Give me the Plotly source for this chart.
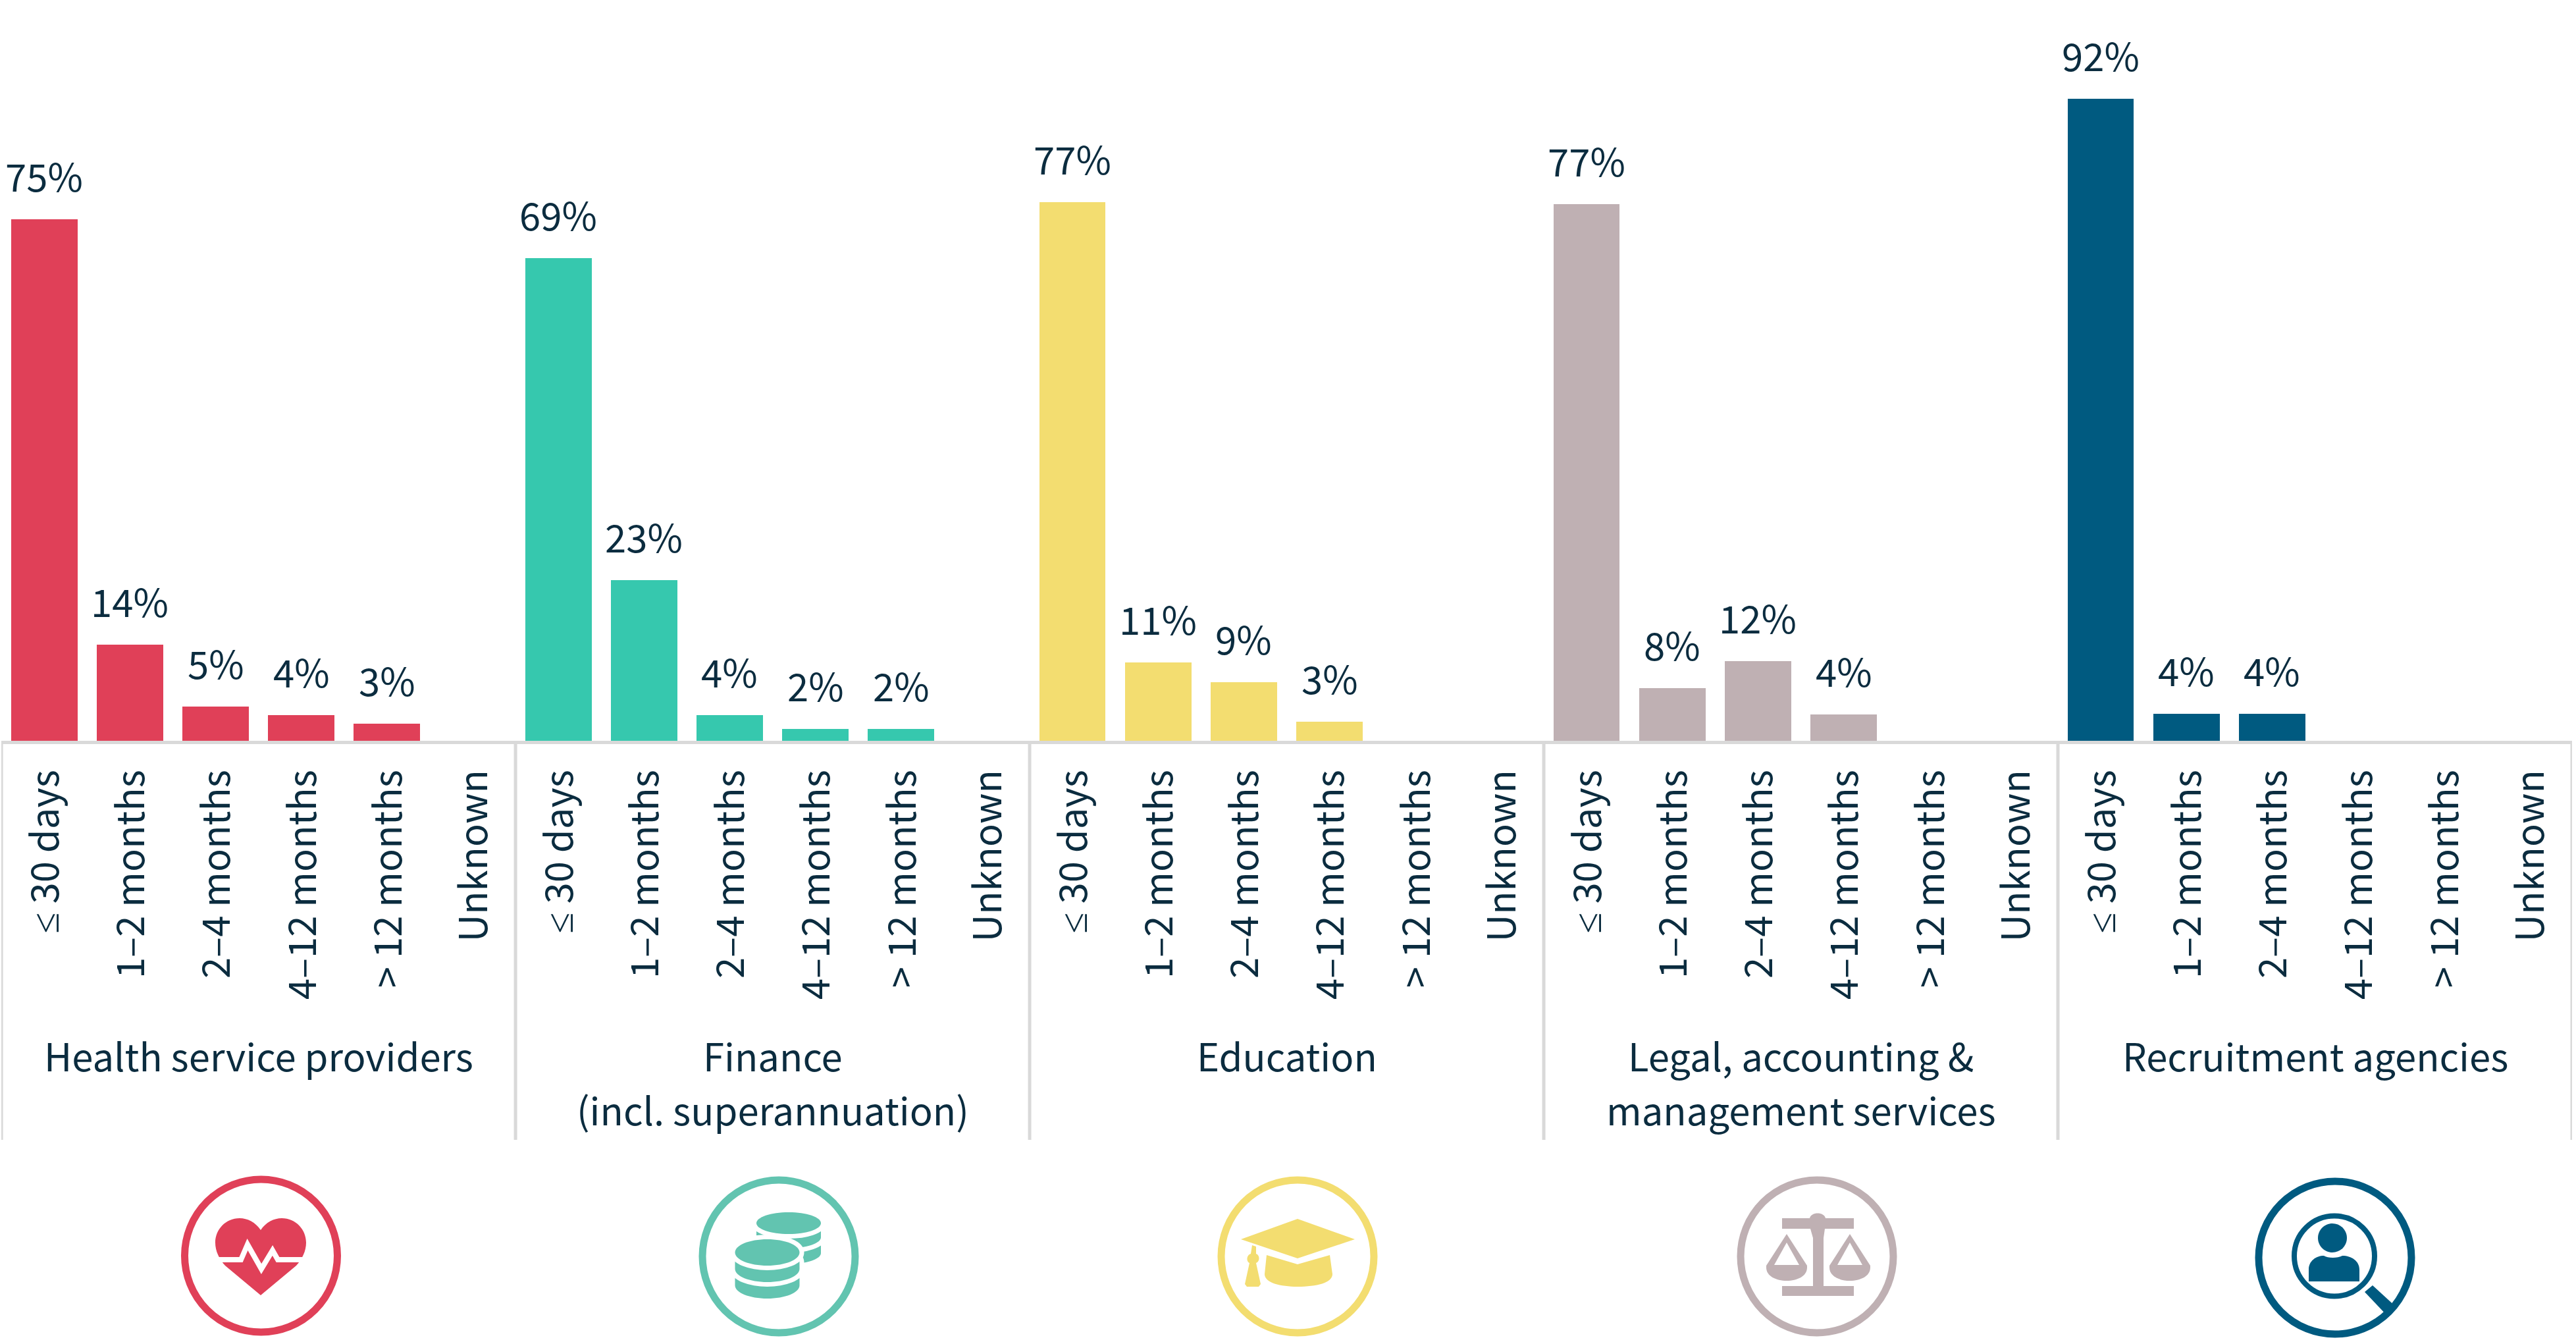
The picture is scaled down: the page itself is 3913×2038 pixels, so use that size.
import re
import plotly.graph_objects as go

W, H = 3913, 2038
FONT = "Noto Sans CJK JP"
INK = "#0B2C3F"
GRID = "#D9D9D9"

durations = ['<span style="font-family:Noto Sans">≤</span> 30 days', "1–2 months", "2–4 months",
             "4–12 months", "> 12 months", "Unknown"]
health_values = [74.7, 13.8, 4.9, 3.7, 2.45, None]
finance_values = [69.15, 23.0, 3.7, 1.73, 1.73, None]
education_values = [77.2, 11.26, 8.4, 2.74, None, None]
legal_values = [76.9, 7.55, 11.4, 3.77, None, None]
recruitment_values = [92.0, 3.87, 3.87, None, None, None]
health_labels = ["75%", "14%", "5%", "4%", "3%", None]
finance_labels = ["69%", "23%", "4%", "2%", "2%", None]
education_labels = ["77%", "11%", "9%", "3%", None, None]
legal_labels = ["77%", "8%", "12%", "4%", None, None]
recruitment_labels = ["92%", "4%", "4%", None, None, None]
group_line1 = ["Health service providers", "Finance", "Education", "Legal, accounting &", "Recruitment agencies"]
group_line2 = [None, "(incl. superannuation)", None, "management services", None]
bar_colors = ["#E04058", "#36C8AE", "#F3DD70", "#BFB0B3", "#005A80"]
ring_colors = ["#E04058", "#62C4B0", "#F3DD70", "#BFB0B3", "#005A80"]
all_values = [health_values, finance_values, education_values, legal_values, recruitment_values]
all_labels = [health_labels, finance_labels, education_labels, legal_labels, recruitment_labels]

BASE = 1125
PX_PER_UNIT = 10.6
LEFT, RIGHT = 2.1, 3907
n = len(durations)

fig = go.Figure()
annotations = []
shapes = []
TXT = dict(family=FONT, size=58, color=INK)

for g, (vals, labs) in enumerate(zip(all_values, all_labels)):
    xs = [g * n + i for i in range(n)]
    fig.add_trace(go.Bar(x=xs, y=vals, width=0.775, marker=dict(color=bar_colors[g], line_width=0),
                         showlegend=False, hoverinfo="skip"))
    for x, v, t in zip(xs, vals, labs):
        if v is not None:
            annotations.append(dict(x=x, y=v, xref="x", yref="y", text=t, showarrow=False,
                                    yanchor="bottom", yshift=23, font=TXT))
    for line, top in ((group_line1[g], 1558), (group_line2[g], 1640)):
        if line:
            annotations.append(dict(x=g * n + (n - 1) / 2, y=1 - top / H, xref="x", yref="paper",
                                    text=line, showarrow=False, yanchor="top", font=TXT))
    shapes.append(dict(type="line", xref="x", yref="paper", x0=g * n - 0.5, x1=g * n - 0.5,
                       y0=1 - BASE / H, y1=1 - 1731 / H, line=dict(color=GRID, width=5)))
shapes.append(dict(type="line", xref="x", yref="paper", x0=29.5, x1=29.5,
                   y0=1 - BASE / H, y1=1 - 1731 / H, line=dict(color=GRID, width=5)))


def P(s):
    return re.sub(r"(-?[\d.]+),(-?[\d.]+)",
                  lambda m: f"{float(m[1]) / W:.6f},{1 - float(m[2]) / H:.6f}", s)


def path(s, fill=None, line=None, lw=0):
    shapes.append(dict(type="path", xref="paper", yref="paper", path=P(s), layer="above",
                       fillcolor=fill if fill else "rgba(0,0,0,0)",
                       line=dict(color=line if line else "rgba(0,0,0,0)", width=lw)))


def ring(cx, cy, rx, ry, color, lw):
    shapes.append(dict(type="circle", xref="paper", yref="paper", layer="above",
                       x0=(cx - rx) / W, x1=(cx + rx) / W, y0=1 - (cy + ry) / H, y1=1 - (cy - ry) / H,
                       fillcolor="rgba(0,0,0,0)", line=dict(color=color, width=lw)))


def disc(cx, cy, rx, ry, h, color):
    k = 0.5523
    d = (f"M{cx - rx},{cy} C{cx - rx},{cy - k * ry} {cx - k * rx},{cy - ry} {cx},{cy - ry} "
         f"C{cx + k * rx},{cy - ry} {cx + rx},{cy - k * ry} {cx + rx},{cy} "
         f"L{cx + rx},{cy + h} C{cx + rx},{cy + h + k * ry} {cx + k * rx},{cy + h + ry} {cx},{cy + h + ry} "
         f"C{cx - k * rx},{cy + h + ry} {cx - rx},{cy + h + k * ry} {cx - rx},{cy + h} Z")
    path(d, fill="#FFFFFF", line="#FFFFFF", lw=14)
    path(d, fill=color)


# icon rings
for cx, cy, col in [(396.5, 1907, ring_colors[0]), (1183, 1908, ring_colors[1]), (1971, 1908, ring_colors[2]),
                    (2760, 1908, ring_colors[3]), (3547, 1910, ring_colors[4])]:
    ring(cx, cy, 116, 116, col, 11)

# heart
c = ring_colors[0]
path("M396,1868 C388,1856 376,1850 364,1850 C343,1850 327,1867 327,1887 C327,1900 333,1912 342,1922 "
     "L396,1967 L450,1922 C459,1912 465,1900 465,1887 C465,1867 449,1850 428,1850 C416,1850 404,1856 396,1868 Z",
     fill=c)
path("M322,1913 L366,1913 L376,1890 L397,1927 L414,1899 L422,1913 L470,1913", line="#FFFFFF", lw=8)

# coins
c = ring_colors[1]
disc(1198, 1893, 49, 16.5, 10, c)
disc(1198, 1870, 49, 16.5, 9, c)
disc(1198, 1857.5, 49, 16.5, 0, c)
disc(1165.5, 1942, 49, 20, 10, c)
disc(1165.5, 1917, 49, 20, 10, c)
disc(1165.5, 1902, 49, 20, 0, c)

# graduation cap
c = ring_colors[2]
path("M1885,1882 L1971,1851 L2058,1882 L1971,1911 Z", fill=c)
path("M1924,1906 L1971,1920 L2020,1906 L2024,1935 C2024,1948 2000,1954 1971,1954 "
     "C1945,1954 1921,1948 1921,1935 Z", fill=c)
path("M1902,1891 L1908,1893 L1908,1904 C1914,1906 1914,1916 1908,1918 L1915,1950 L1912,1954 L1894,1954 "
     "L1891,1950 L1898,1918 C1893,1916 1893,1906 1900,1904 Z", fill=c)

# scales
c = ring_colors[3]
path("M2707,1850 L2749,1850 C2751,1840 2771,1840 2773,1850 L2816,1850 L2816,1866 L2772,1866 L2770,1880 "
     "L2770,1953 L2816,1953 L2816,1968 L2707,1968 L2707,1953 L2754,1953 L2754,1880 L2750,1866 L2707,1866 Z", fill=c)
for px in (2714, 2810):
    path(f"M{px},1874 L{px + 31},1922 L{px + 31},1925 C{px + 31},1938 {px + 16},1945 {px},1945 "
         f"C{px - 16},1945 {px - 31},1938 {px - 31},1925 L{px - 31},1922 Z", fill=c)
    path(f"M{px},1887 L{px + 19},1921 L{px - 19},1921 Z", fill="#FFFFFF")

# magnifier and person
c = ring_colors[4]
ring(3546, 1907.5, 61, 61, c, 8)
path("M3592,1962 L3604,1952 L3640,1985 L3628,2000 Z", fill=c)
disc(3543, 1880, 22, 22, 0, c)
path("M3507,1946 L3507,1928 C3507,1915 3518,1907 3530,1907 C3536,1911 3551,1911 3558,1907 "
     "C3572,1907 3584,1915 3584,1928 L3584,1946 Z", fill=c)

fig.update_layout(
    width=W, height=H, margin=dict(l=0, r=0, t=0, b=0),
    paper_bgcolor="#FFFFFF", plot_bgcolor="#FFFFFF",
    barmode="overlay", bargap=0,
    annotations=annotations, shapes=shapes,
    xaxis=dict(domain=[LEFT / W, RIGHT / W], range=[-0.5, 29.5],
               tickmode="array", tickvals=list(range(30)), ticktext=durations * 5,
               tickangle=-90, ticklabelstandoff=16, ticklabelshift=3, ticks="",
               tickfont=TXT,
               showgrid=False, zeroline=False, showline=True, linecolor=GRID, linewidth=5),
    yaxis=dict(domain=[1 - BASE / H, 1], range=[0, BASE / PX_PER_UNIT], visible=False,
               showgrid=False, zeroline=False, fixedrange=True),
)
fig.write_html("out.html", config=dict(displayModeBar=False),
               post_script="document.body.style.margin='0';")
